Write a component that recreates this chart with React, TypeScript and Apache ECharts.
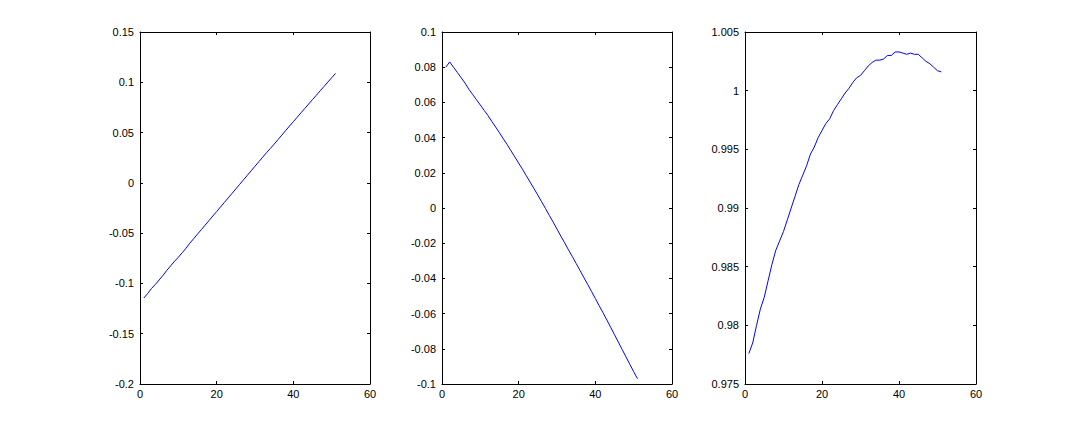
import React, { useEffect, useRef } from "react";
import * as echarts from "echarts";

const xs: number[] = Array.from({ length: 51 }, (_, i) => i + 1);

const series1: number[] = [
  -0.1145, -0.11, -0.105, -0.101, -0.0965, -0.092, -0.087, -0.0825, -0.078, -0.074,
  -0.0695, -0.065, -0.06, -0.0555, -0.051, -0.0465, -0.042, -0.0375, -0.033, -0.0285,
  -0.024, -0.0195, -0.015, -0.0105, -0.006, -0.0015, 0.003, 0.0075, 0.012, 0.0165,
  0.021, 0.0255, 0.03, 0.0342, 0.0385, 0.043, 0.0475, 0.052, 0.0565, 0.0608,
  0.0652, 0.0697, 0.074, 0.0784, 0.0828, 0.0871, 0.0915, 0.0958, 0.1002, 0.1045,
  0.1088,
];

const series2: number[] = [
  0.08, 0.083, 0.08, 0.077, 0.074, 0.071, 0.0675, 0.0645, 0.0615, 0.0585,
  0.0555, 0.0525, 0.0492, 0.046, 0.0427, 0.0393, 0.036, 0.0325, 0.029, 0.0255,
  0.022, 0.0183, 0.0147, 0.011, 0.0073, 0.0035, -0.0003, -0.0042, -0.008, -0.012,
  -0.016, -0.0198, -0.0238, -0.0276, -0.0315, -0.0355, -0.0395, -0.0434, -0.0474, -0.0514,
  -0.0555, -0.0595, -0.0636, -0.0678, -0.072, -0.0762, -0.0804, -0.0846, -0.0888, -0.093,
  -0.097,
];

const series3: number[] = [
  0.9776, 0.9785, 0.98, 0.9814, 0.9824, 0.9838, 0.9852, 0.9864, 0.9872, 0.988,
  0.989, 0.99, 0.991, 0.992, 0.9928, 0.9936, 0.9946, 0.9952, 0.996, 0.9966,
  0.9972, 0.9976, 0.9983, 0.9988, 0.9993, 0.9998, 1.0002, 1.0007, 1.0011, 1.0013,
  1.0017, 1.0021, 1.0024, 1.0026, 1.0026, 1.0027, 1.003, 1.003, 1.0033, 1.0033,
  1.0032, 1.0031, 1.0032, 1.0031, 1.0031, 1.0028, 1.0025, 1.0023, 1.002, 1.0017,
  1.0016,
];

const xRange = { min: 0, max: 60, interval: 20 };
const yRanges = [
  { min: -0.2, max: 0.15, interval: 0.05 },
  { min: -0.1, max: 0.1, interval: 0.02 },
  { min: 0.975, max: 1.005, interval: 0.005 },
];

const allSeries = [series1, series2, series3];

const fmt = (v: number) => String(parseFloat(v.toFixed(6)));

export default function App() {
  const ref = useRef<HTMLDivElement>(null);
  useEffect(() => {
    if (!ref.current) return;
    const chart = echarts.init(ref.current, null, { renderer: "svg" });
    const grids = [
      { left: 140, top: 32, width: 230, height: 352 },
      { left: 442, top: 32, width: 230, height: 352 },
      { left: 745, top: 32, width: 231, height: 352 },
    ];
    const font = { fontFamily: "Liberation Sans, Arial, sans-serif", fontSize: 11, color: "#000" };
    const lineStyle = { color: "#000", width: 1 };
    const xAxis: any[] = [];
    const yAxis: any[] = [];
    grids.forEach((_, g) => {
      ["bottom", "top"].forEach((pos, k) => {
        xAxis.push({
          type: "value",
          gridIndex: g,
          position: pos,
          ...xRange,
          axisLine: { show: true, onZero: false, lineStyle },
          axisTick: { show: true, inside: true, length: 3, lineStyle },
          axisLabel: { show: k === 0, ...font, margin: 4, formatter: fmt },
          splitLine: { show: false },
        });
      });
      ["left", "right"].forEach((pos, k) => {
        yAxis.push({
          type: "value",
          gridIndex: g,
          position: pos,
          ...yRanges[g],
          axisLine: { show: true, onZero: false, lineStyle },
          axisTick: { show: true, inside: true, length: 3, lineStyle },
          axisLabel: { show: k === 0, ...font, margin: 6, formatter: fmt },
          splitLine: { show: false },
        });
      });
    });
    chart.setOption({
      animation: false,
      backgroundColor: "#fff",
      grid: grids,
      xAxis,
      yAxis,
      series: allSeries.map((s, g) => ({
        type: "line",
        xAxisIndex: g * 2,
        yAxisIndex: g * 2,
        data: xs.map((x, i) => [x, s[i]]),
        showSymbol: false,
        symbol: "none",
        lineStyle: { color: "#0000ff", width: 1 },
      })),
    });
    return () => chart.dispose();
  }, []);
  return (
    <div
      ref={ref}
      style={{ position: "fixed", left: 0, top: 0, width: 1077, height: 431, background: "#fff" }}
    />
  );
}
